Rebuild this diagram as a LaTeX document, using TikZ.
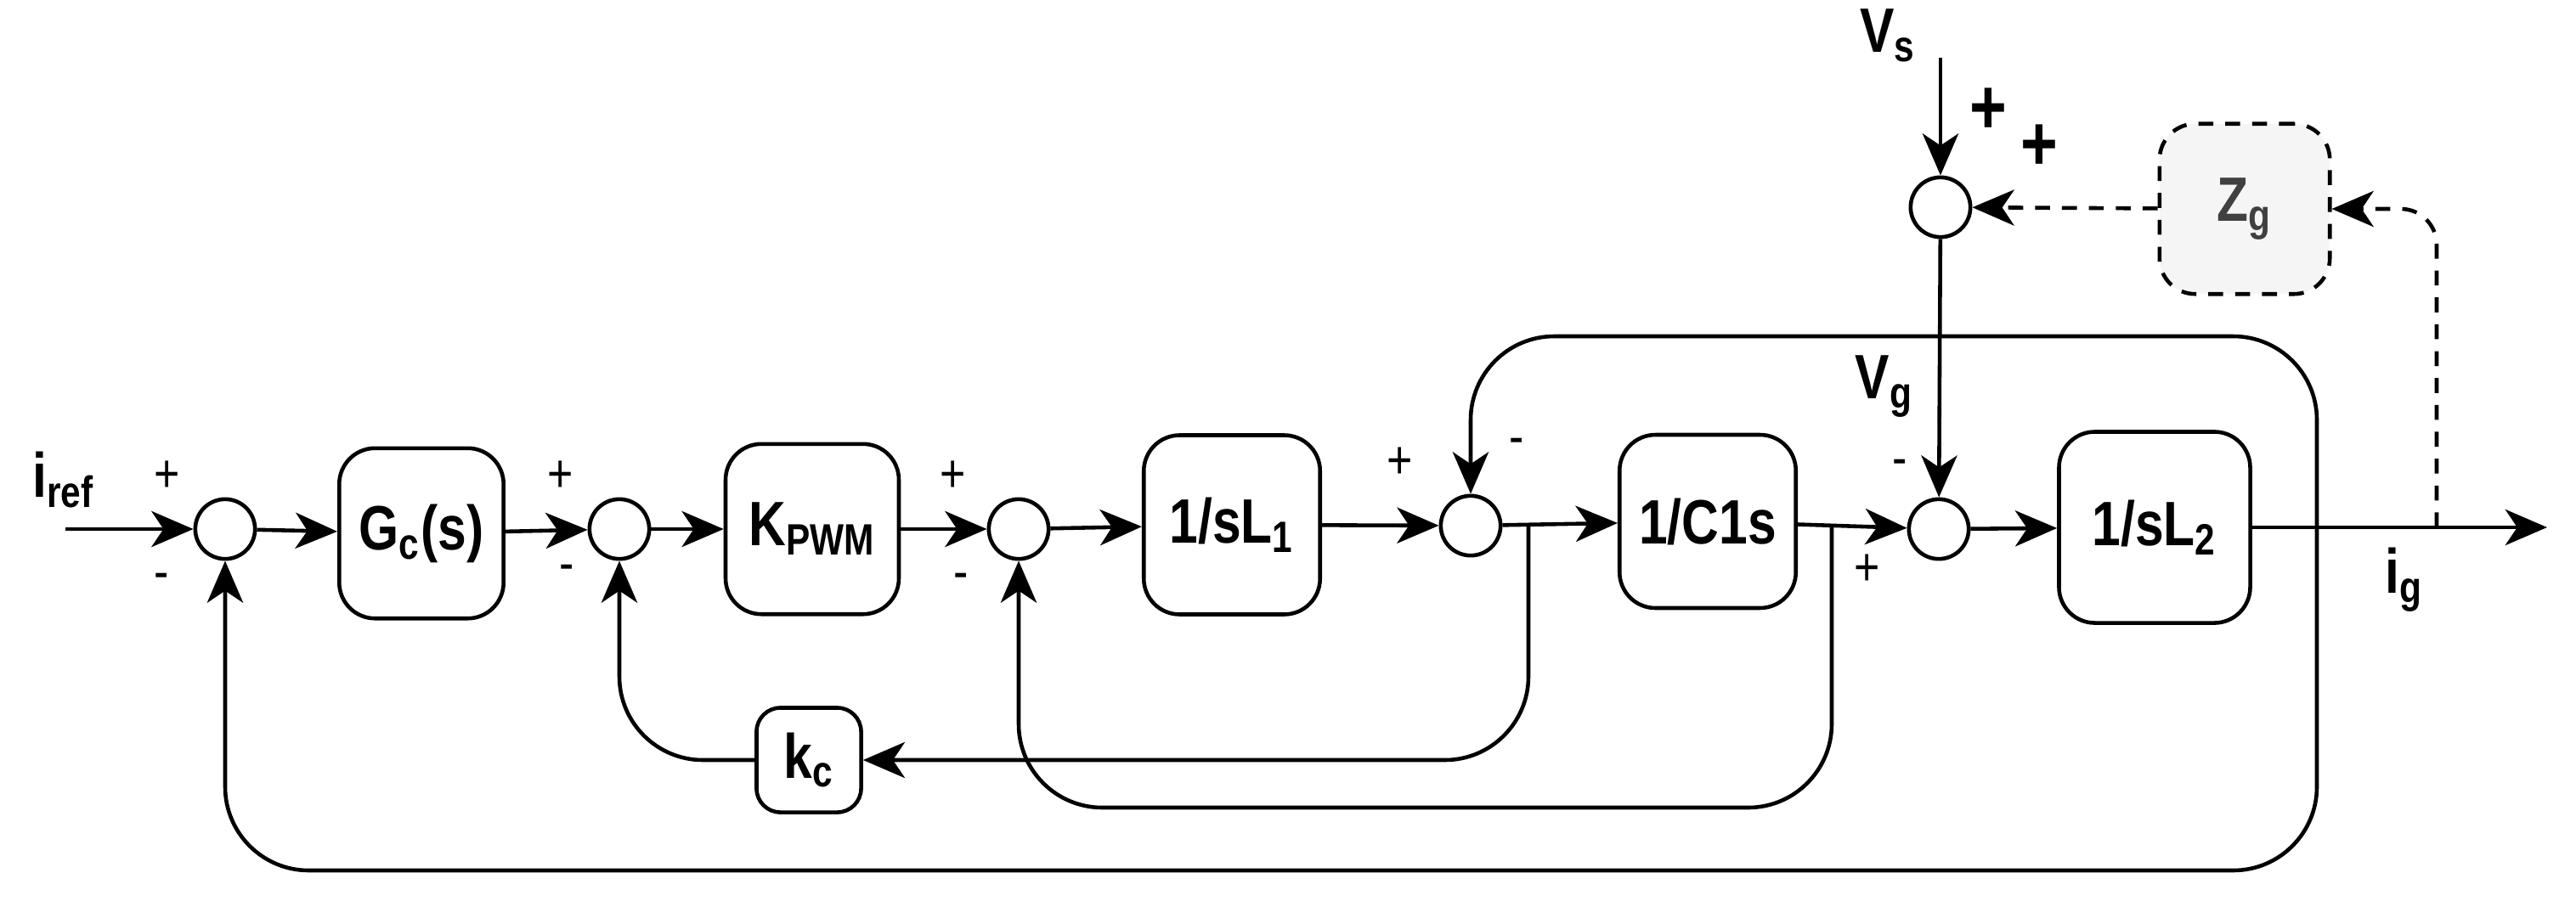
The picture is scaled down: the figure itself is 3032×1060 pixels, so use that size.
\documentclass[tikz,border=0pt]{standalone}
\usepackage{fontspec}
\setmainfont{Liberation Sans}[FakeStretch=0.82]
\usetikzlibrary{arrows.meta}
\newcommand{\sbx}[1]{\textsubscript{#1}}
\begin{document}
\begin{tikzpicture}[x=0.01cm,y=-0.01cm,
  line width=1.3pt,
  >={Stealth[length=14pt,width=12pt,inset=4pt]},
  blk/.style={draw,rounded corners=12pt,line width=1.3pt,font=\bfseries\fontsize{21}{24}\selectfont},
  sm/.style={draw,circle,minimum size=20pt,inner sep=0pt,line width=1.3pt},
  sg/.style={font=\fontsize{18}{20}\selectfont},
  lb/.style={font=\bfseries\fontsize{21}{24}\selectfont},
  dsh/.style={dashed,dash pattern=on 5pt off 4pt}]
\useasboundingbox (0,0) rectangle (3032,1060);
\node[sm] (s1) at (265,623) {};
\node[sm] (s2) at (729,623) {};
\node[sm] (s3) at (1199,623) {};
\node[sm] (s4) at (1731,619) {};
\node[sm] (s5) at (2282,623) {};
\node[sm] (sv) at (2284,244) {};
\node[blk,minimum width=55pt,minimum height=57pt] (gc) at (496,628) {G\sbx{c}(s)};
\node[blk,minimum width=58pt,minimum height=57pt] (kp) at (956,623) {K\sbx{PWM}};
\node[blk,minimum width=59pt,minimum height=60pt] (l1) at (1450,618) {1/sL\sbx{1}};
\node[blk,minimum width=59pt,minimum height=58pt] (c1) at (2010,614) {1/C1s};
\node[blk,minimum width=64pt,minimum height=64pt] (l2) at (2536,621) {1/sL\sbx{2}};
\node[blk,minimum width=35pt,minimum height=35pt,rounded corners=8pt] (kc) at (952,895) {k\sbx{c}};
\node[blk,dsh,fill=black!4,text=black!75,minimum width=57pt,minimum height=57pt] (zg) at (2642,246) {Z\sbx{g}};
\coordinate (in) at (77,623);
\coordinate (out) at (2998,621);
\coordinate (vs) at (2284,68);
% labels
\node[lb] at (75,565) {i\sbx{ref}};
\node[lb] at (2830,683) {i\sbx{g}};
\node[lb] at (2222,42) {V\sbx{s}};
\node[lb] at (2218,455) {V\sbx{g}};
\node[sg] at (197,561) {+};
\node[sg] at (190,685) {-};
\node[sg] at (660,561) {+};
\node[sg] at (667,675) {-};
\node[sg] at (1122,561) {+};
\node[sg] at (1131,685) {-};
\node[sg] at (1648,545) {+};
\node[sg] at (1785,526) {-};
\node[sg] at (2236,551) {-};
\node[sg] at (2198,671) {+};
\node[font=\bfseries\fontsize{26}{28}\selectfont] at (2340,131) {+};
\node[font=\bfseries\fontsize{26}{28}\selectfont] at (2400,174) {+};
% forward path
\draw[->] (in) -- (s1);
\draw[->] (s1) -- (gc);
\draw[->] (gc) -- (s2);
\draw[->] (s2) -- (kp);
\draw[->] (kp) -- (s3);
\draw[->] (s3) -- (l1);
\draw[->] (l1) -- (s4);
\draw[->] (s4) -- (c1);
\draw[->] (c1) -- (s5);
\draw[->] (s5) -- (l2);
\draw[->] (l2) -- (out);
\draw[->] (vs) -- (sv);
\draw[->] (sv) -- (s5);
% Zg dashed
\draw[->,dsh] (zg) -- (sv);
\draw[->,dsh,rounded corners=12pt] (2868,621) -- (2868,246) -- (zg);
% feedbacks
\draw[->,rounded corners=28pt] (2727,621) -- (2727,396) -- (1731,396) -- (s4);
\draw[->,rounded corners=28pt] (2727,621) -- (2727,1025) -- (265,1025) -- (s1);
\draw[->,rounded corners=28pt] (1799,619) -- (1799,895) -- (kc);
\draw[->,rounded corners=28pt] (kc) -- (729,895) -- (s2);
\draw[->,rounded corners=28pt] (2156,619) -- (2156,951) -- (1199,951) -- (s3);
\end{tikzpicture}
\end{document}
